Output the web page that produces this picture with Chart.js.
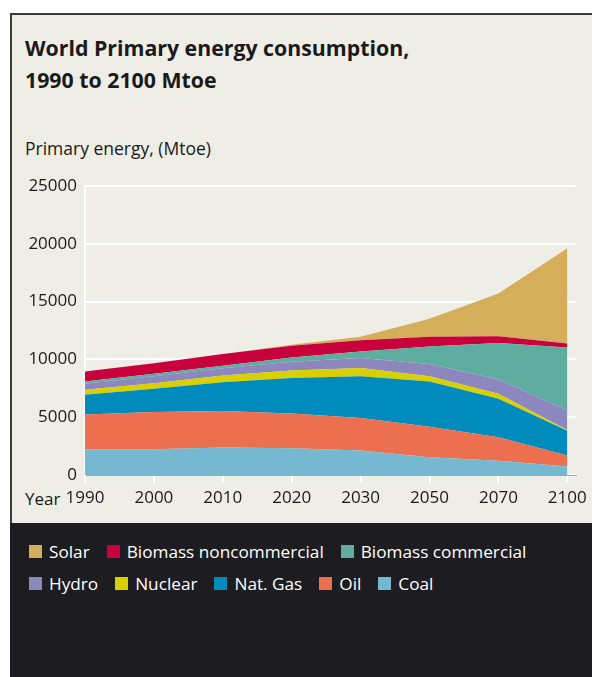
<!DOCTYPE html>
<html>
<head>
<meta charset="utf-8">
<script src="https://cdn.jsdelivr.net/npm/chart.js@4"></script>
<style>
body{margin:0;background:#fff;width:592px;height:677px;overflow:hidden;position:relative;font-family:"Open Sans",sans-serif;}
#panel{position:absolute;left:10px;top:13px;width:582px;height:510px;background:#eeede6;border-top:2px solid #3a3a3a;border-left:2px solid #3a3a3a;box-sizing:border-box;}
#foot{position:absolute;left:10px;top:523px;width:582px;height:154px;background:#1d1c20;}
#title{position:absolute;left:25px;top:32px;font-weight:bold;font-size:21.3px;line-height:32px;color:#1a1a1a;}
#ytitle{position:absolute;left:25px;top:136px;font-size:17.5px;color:#1a1a1a;}
#year{position:absolute;left:25px;top:487px;font-size:17px;color:#1a1a1a;}
#chart{position:absolute;left:0;top:0;}
.row{position:absolute;left:29px;display:flex;align-items:center;color:#fff;font-size:17.2px;}
.item{display:flex;align-items:center;margin-right:17px;}
.box{width:13px;height:13px;margin-right:7px;}
</style>
</head>
<body>
<div id="panel"></div>
<div id="foot"></div>
<div id="title">World Primary energy consumption,<br>1990 to 2100 Mtoe</div>
<div id="ytitle">Primary energy, (Mtoe)</div>
<div id="year">Year</div>
<div class="row" id="row1" style="top:540px"></div>
<div class="row" id="row2" style="top:572px"></div>
<canvas id="chart" width="592" height="677"></canvas>
<script>
const years = ['1990', '2000', '2010', '2020', '2030', '2050', '2070', '2100'];

const coal    = [2230, 2230, 2370, 2320, 2110, 1540, 1230, 740];
const oil     = [3000, 3220, 3170, 3000, 2830, 2630, 2030, 940];
const natGas  = [1720, 2010, 2490, 3080, 3600, 3920, 3340, 2140];
const nuclear = [430, 480, 570, 630, 720, 450, 430, 70];
const hydro   = [510, 600, 630, 770, 860, 1070, 1230, 1710];
const bioComm = [200, 210, 230, 370, 570, 1510, 3150, 5430];
const bioNon  = [860, 910, 1000, 1000, 970, 830, 600, 340];
const solar   = [0, 0, 0, 90, 310, 1570, 3680, 8240];

const yTicks = [0, 5000, 10000, 15000, 20000, 25000];

// bottom to top
const series = [
  { label: 'Coal', data: coal, color: '#75b8cf' },
  { label: 'Oil', data: oil, color: '#ec7050' },
  { label: 'Nat. Gas', data: natGas, color: '#008bbd' },
  { label: 'Nuclear', data: nuclear, color: '#d8d000' },
  { label: 'Hydro', data: hydro, color: '#8d87bf' },
  { label: 'Biomass commercial', data: bioComm, color: '#5fada0' },
  { label: 'Biomass noncommercial', data: bioNon, color: '#c8003c' },
  { label: 'Solar', data: solar, color: '#d4ae5a' }
];

// legend rows as in the original
const legendRows = [
  ['Solar', 'Biomass noncommercial', 'Biomass commercial'],
  ['Hydro', 'Nuclear', 'Nat. Gas', 'Oil', 'Coal']
];
legendRows.forEach((names, r) => {
  const row = document.getElementById('row' + (r + 1));
  names.forEach(n => {
    const s = series.find(d => d.label === n);
    const it = document.createElement('div');
    it.className = 'item';
    it.innerHTML = '<span class="box" style="background:' + s.color + '"></span>' + n;
    row.appendChild(it);
  });
});

new Chart(document.getElementById('chart'), {
  type: 'line',
  data: {
    datasets: series.map((s, i) => ({
      label: s.label,
      data: s.data.map((v, j) => ({ x: j, y: v })),
      backgroundColor: s.color,
      borderWidth: 0,
      pointRadius: 0,
      fill: i === 0 ? 'origin' : '-1',
      tension: 0
    }))
  },
  options: {
    responsive: false,
    animation: false,
    layout: { padding: { left: 0, top: 186, right: 15, bottom: 172 } },
    plugins: { legend: { display: false }, tooltip: { enabled: false } },
    scales: {
      x: {
        type: 'linear',
        min: 0,
        max: 7.12,
        afterFit: s => { s.height = 30; },
        ticks: {
          stepSize: 1,
          includeBounds: false,
          autoSkip: false,
          maxRotation: 0,
          padding: 5,
          color: '#1a1a1a',
          font: { family: 'Open Sans', size: 17 },
          callback: v => years[v] ?? ''
        },
        grid: { drawOnChartArea: false, drawTicks: true, tickLength: 8, color: '#fff', lineWidth: 2 },
        border: { display: true, color: '#b5a58a', width: 1 }
      },
      y: {
        stacked: true,
        min: 0,
        max: 25000,
        afterFit: s => { s.width = 85; },
        afterBuildTicks: s => { s.ticks = yTicks.map(v => ({ value: v })); },
        ticks: {
          padding: 8,
          color: '#1a1a1a',
          font: { family: 'Open Sans', size: 17 },
          callback: v => String(v)
        },
        grid: { color: '#fff', lineWidth: 2, drawTicks: false },
        border: { color: '#fff', width: 2 }
      }
    }
  }
});
</script>
</body>
</html>
